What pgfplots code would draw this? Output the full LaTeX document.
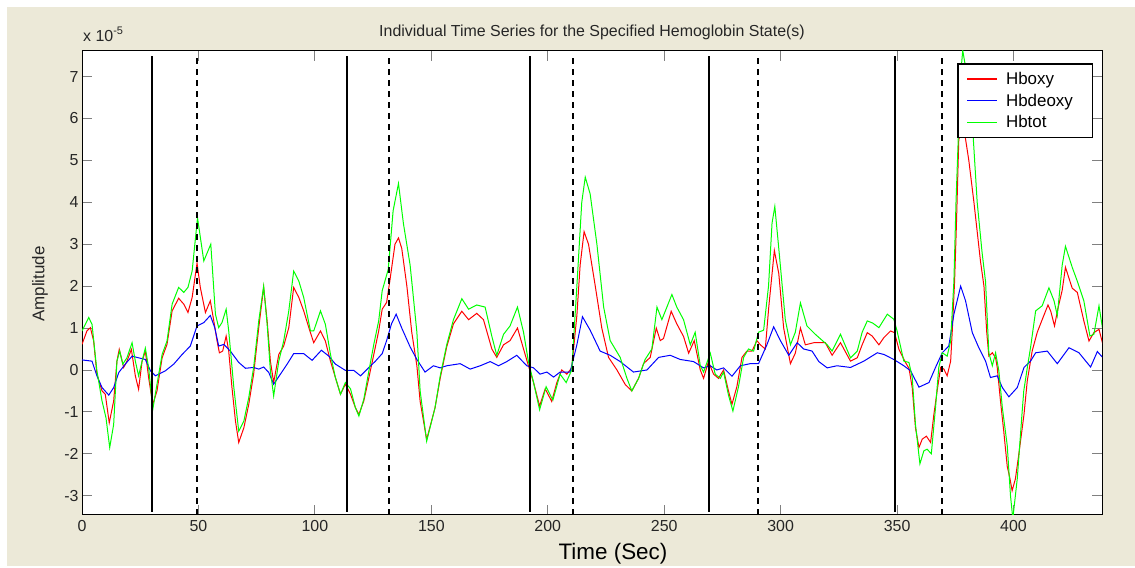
\documentclass[border=0pt]{standalone}
\usepackage{fontspec}
\setmainfont{Liberation Sans}
\usepackage{pgfplots}
\pgfplotsset{compat=1.18}
\definecolor{figbg}{RGB}{236,233,216}
\definecolor{mred}{RGB}{255,0,0}
\definecolor{mblue}{RGB}{0,0,255}
\definecolor{mgreen}{RGB}{0,255,0}
\begin{document}
\begin{tikzpicture}[x=1bp,y=1bp]
\fill[white] (0,0) rectangle (1135,566);
\fill[figbg] (7,0) rectangle (1135,559);
\begin{axis}[
  at={(82bp,51bp)}, anchor=south west,
  scale only axis, width=1020bp, height=464bp,
  xmin=0, xmax=438, ymin=-3.46, ymax=7.61,
  axis background/.style={fill=white},
  xtick={0,50,100,150,200,250,300,350,400},
  xticklabels={0,50,100,150,200,250,300,350,400},
  ytick={-3,-2,-1,0,1,2,3,4,5,6,7},
  yticklabels={-3,-2,-1,0,1,2,3,4,5,6,7},
  tick align=inside, major tick length=10bp,
  tick style={line width=0.8bp},
  axis line style={line width=1bp},
  ticklabel style={font=\fontsize{16}{18}\selectfont, text=black!85},
  xticklabel style={yshift=-2bp},
  legend style={at={(rel axis cs:0.8585,0.972)}, anchor=north west,
    name=leg, fill=white,
    font=\fontsize{17}{19}\selectfont,
    inner xsep=9bp, inner ysep=6bp, row sep=4bp,
    cells={anchor=west},
    /tikz/every odd column/.append style={column sep=6bp}},
  legend image code/.code={\draw[mark repeat=2,mark phase=2] plot coordinates {(0bp,0bp) (15bp,0bp) (30bp,0bp)};},
  legend entries={Hboxy,Hbdeoxy\hspace*{8bp},Hbtot},
]
\addlegendimage{color=mred, line width=1.2bp}
\addlegendimage{color=mblue, line width=1.2bp}
\addlegendimage{color=mgreen, line width=1.2bp}
\addplot[color=mred, line width=1bp, forget plot] coordinates {
(0,0.61) (2.1,0.93) (3.6,1.01) (5,0.69) (6.4,-0.1) (8.6,-0.5) (10,-0.58) (11.7,-1.26) (13.6,-0.74) (15,0.21) (16,0.49) (17.9,0.06) (19.3,0.21) (21.2,0.49) (22.9,-0.14) (24.3,-0.46) (25.8,0.21) (27.2,0.45) (28.6,-0.18) (30.4,-0.82) (32.2,-0.5) (34.4,0.29) (36.5,0.61) (38.7,1.41) (41.5,1.71) (43.7,1.57) (45.5,1.37) (47.3,1.73) (49.4,2.55) (50.8,1.97) (53,1.37) (55.1,1.65) (56.6,1.17) (58,0.69) (59,0.41) (60.4,0.45) (61.9,0.81) (63,0.45) (64.4,-0.42) (65.9,-1.22) (67.3,-1.73) (69.5,-1.38) (71.6,-0.82) (73.7,-0.1) (75.9,1.01) (78,1.97) (79.5,1.17) (80.9,0.21) (82.3,-0.3) (84.5,0.37) (86.6,0.57) (88.8,1.01) (90.9,1.97) (93.1,1.73) (95.2,1.41) (97.4,1.01) (99.5,0.65) (102.4,0.93) (104.5,0.69) (106.7,0.21) (108.8,-0.18) (111,-0.58) (113.1,-0.34) (115.3,-0.58) (117.4,-0.9) (118.9,-1.06) (121,-0.74) (123.2,-0.18) (125.3,0.37) (127.4,0.93) (128.9,1.45) (130.8,1.61) (132.2,2.13) (134.4,3.0) (135.9,3.15) (137.3,2.9) (139.5,2.0) (141.6,0.9) (143.8,0.1) (145.2,-0.75) (148,-1.66) (151.6,-0.9) (153.8,-0.2) (156.6,0.55) (159.5,1.1) (163.1,1.4) (166,1.2) (169.5,1.35) (172.4,1.2) (176,0.5) (178.1,0.3) (181,0.6) (183.8,0.7) (187,1.0) (189.6,0.5) (191.7,0.1) (193.9,-0.3) (196.5,-0.86) (198.9,-0.45) (201.7,-0.75) (203.9,-0.3) (206,0.0) (208.2,-0.1) (210.3,0.05) (212.5,1.3) (213.9,2.5) (215.6,3.3) (217.5,3.0) (220.4,2.0) (223.2,1.0) (226.1,0.3) (229.7,0.0) (233.3,-0.35) (236.1,-0.5) (239,-0.2) (241.1,0.15) (244,0.3) (246.6,1.0) (248.3,0.7) (249.7,0.75) (253,1.4) (255.4,1.1) (258.3,0.8) (260.5,0.4) (262.9,0.7) (265.5,0.0) (266.9,-0.2) (269,0.2) (271.2,-0.1) (273.3,-0.2) (275.5,0.0) (277.6,-0.5) (279.1,-0.82) (281.2,-0.4) (283.4,0.3) (285.5,0.45) (287.7,0.45) (289.8,0.7) (291.3,0.6) (293.4,0.5) (294.9,1.5) (297.3,2.85) (299.2,2.3) (301.3,1.0) (304.2,0.15) (306.3,0.4) (308.5,1.0) (310.6,0.6) (314.2,0.65) (319.2,0.65) (322.1,0.35) (325.7,0.65) (330,0.21) (332.9,0.29) (335,0.6) (337.2,0.89) (339.3,0.81) (342.2,0.6) (344.3,0.77) (347.2,0.93) (348.9,0.89) (350.8,0.49) (353.6,0.18) (355.1,0.04) (356.5,-0.42) (357.9,-1.38) (359.4,-1.85) (360.8,-1.65) (362.6,-1.58) (364.4,-1.73) (365.8,-1.06) (367.2,-0.5) (368.7,0.06) (370.1,0.02) (371.5,-0.14) (373,0.21) (373.7,0.93) (374.7,2.12) (375.5,3.5) (376.5,5.5) (378.6,5.8) (380.8,5.0) (383,4.0) (385.8,2.6) (387.3,2.0) (388.5,0.9) (389.4,0.33) (390.9,0.41) (392.3,0.29) (393,0.06) (394.4,-0.74) (395.8,-1.46) (397.3,-2.3) (398.5,-2.6) (399.4,-2.88) (400.8,-2.6) (402.3,-2.0) (404.5,-1.06) (405.9,-0.26) (408,0.45) (410.2,0.9) (412.3,1.2) (414.8,1.55) (416,1.4) (417.6,1.05) (419,1.45) (420.9,1.9) (422.3,2.45) (425.2,1.95) (427.4,1.85) (430.2,1.17) (432.4,0.69) (434.5,0.89) (436.7,0.97) (438.4,0.6)
};
\addplot[color=mblue, line width=1bp, forget plot] coordinates {
(0,0.24) (4.3,0.21) (6.4,-0.14) (8.6,-0.42) (11.5,-0.6) (13.6,-0.42) (15.8,-0.06) (18.6,0.14) (21.5,0.33) (24.3,0.29) (27.2,0.25) (29.4,-0.02) (31.5,-0.14) (35.8,-0.02) (39.4,0.14) (43,0.37) (46.5,0.57) (49.4,1.05) (52.3,1.13) (55.1,1.3) (57,1.01) (58.7,0.57) (60.9,0.61) (63.7,0.45) (67.3,0.18) (70.2,0.04) (73.7,0.06) (75.9,0.02) (78,0.07) (80.2,-0.06) (82.3,-0.34) (85.2,-0.1) (88.1,0.14) (90.9,0.39) (95.2,0.39) (98.8,0.23) (102.8,0.47) (106,0.33) (108.8,0.14) (113.1,-0.01) (116.7,-0.01) (119.6,-0.14) (123.2,0.06) (126,0.21) (128.9,0.39) (130.8,0.7) (132.9,1.1) (134.9,1.33) (137.3,1.0) (140.9,0.55) (143.8,0.25) (147.3,-0.05) (150.9,0.1) (153.8,0.05) (156.6,0.1) (162.4,0.15) (166.7,0.02) (171,0.1) (175.3,0.2) (178.8,0.1) (182.4,0.2) (186.7,0.35) (191,0.1) (193.9,0.05) (196.7,-0.1) (199.6,-0.05) (202.5,-0.17) (205.3,-0.05) (209.6,-0.05) (212.5,0.6) (214.9,1.27) (218.2,0.95) (222.5,0.45) (226.8,0.35) (231.1,0.2) (236.8,-0.05) (242.6,0.0) (247.6,0.3) (252.6,0.35) (256.9,0.25) (262.6,0.2) (266.9,0.05) (269.8,0.1) (272.6,0.0) (275.5,0.05) (279.1,-0.15) (282.7,0.1) (286.9,0.15) (290.5,0.15) (294.1,0.6) (297,1.03) (299.9,0.7) (303.5,0.35) (307.1,0.65) (309.9,0.5) (313.5,0.45) (316.4,0.2) (320,0.05) (324.2,0.1) (330,0.06) (335.7,0.21) (341.5,0.41) (344.3,0.37) (348.6,0.25) (352.9,0.1) (355.8,-0.02) (359.4,-0.41) (363.7,-0.3) (366.5,0.06) (369.4,0.41) (372.2,0.57) (374.4,1.33) (377.3,2.0) (379.4,1.65) (382.3,0.89) (385.1,0.53) (388,0.21) (390.1,-0.18) (393,-0.14) (395.2,-0.42) (398,-0.64) (401.6,-0.42) (404.5,0.06) (407.3,0.21) (409.5,0.41) (414.5,0.45) (418.8,0.15) (423.8,0.53) (428.1,0.41) (433.1,0.07) (436,0.44) (438.4,0.29)
};
\addplot[color=mgreen, line width=1bp, forget plot] coordinates {
(0,0.93) (2.9,1.25) (4.3,1.09) (6.4,-0.02) (8.6,-0.74) (10.3,-1.14) (11.9,-1.85) (13.6,-1.3) (15,0.21) (16.2,0.45) (17.5,0.14) (19.3,0.29) (21.5,0.65) (22.9,0.21) (24.3,-0.14) (25.8,0.21) (27.2,0.52) (28.6,0.06) (30.4,-0.94) (32.2,-0.34) (34.4,0.37) (36.5,0.69) (38.7,1.57) (41.5,1.97) (43.7,1.85) (45.5,1.97) (47.3,2.36) (49.6,3.63) (52.3,2.6) (55.3,3.0) (57.3,1.33) (58.7,1.01) (60.1,1.13) (61.9,1.45) (63,0.93) (65.2,-0.42) (67.3,-1.46) (69.5,-1.22) (71.6,-0.66) (73.7,0.06) (75.9,1.17) (78,2.0) (79.5,1.09) (80.9,-0.02) (82.3,-0.62) (84.5,0.21) (86.6,0.69) (88.8,1.41) (90.9,2.36) (93.1,2.12) (95.2,1.73) (98.1,0.93) (99.5,0.93) (102.4,1.41) (104.5,1.09) (106.7,0.37) (108.8,-0.18) (111,-0.58) (113.1,-0.3) (115.3,-0.45) (117.4,-0.9) (118.9,-1.1) (121,-0.7) (123.2,-0.02) (125.3,0.61) (127.4,1.17) (128.9,1.89) (131.5,2.4) (133.6,3.8) (135.9,4.45) (138,3.5) (140.9,2.5) (143.8,0.9) (145.2,-0.5) (148,-1.7) (151.6,-0.9) (153.8,-0.15) (156.6,0.6) (159.5,1.2) (163.1,1.7) (166,1.45) (169.5,1.55) (173.1,1.5) (176,0.8) (178.1,0.35) (181,0.85) (183.8,1.05) (187,1.5) (189.6,0.9) (191.7,0.2) (193.9,-0.3) (196.5,-0.95) (199.3,-0.4) (202.2,-0.72) (205.3,-0.1) (207.9,-0.3) (210.3,0.0) (212.5,2.0) (214.6,4.0) (216.1,4.6) (218.2,4.2) (221.1,3.0) (224,1.5) (226.8,0.7) (231.1,0.3) (234,-0.2) (236.1,-0.5) (239,-0.2) (241.8,0.25) (244.7,0.5) (246.9,1.5) (249,1.2) (253.3,1.8) (255.4,1.5) (258.3,1.2) (261.2,0.6) (263.3,0.9) (265.5,0.1) (266.9,-0.05) (269.8,0.4) (271.9,-0.1) (274.1,-0.2) (275.5,-0.05) (277.6,-0.6) (279.5,-0.98) (281.9,-0.4) (284.1,0.3) (286.2,0.5) (288.4,0.45) (290.5,0.9) (292.7,0.95) (294.8,2.0) (296.3,3.5) (297.5,3.9) (299.2,2.9) (302,1.2) (304.2,0.6) (306.3,0.9) (308.5,1.6) (311.3,1.05) (314.9,0.85) (320,0.6) (322.1,0.45) (325.7,0.85) (330,0.29) (332.9,0.45) (335,0.9) (337.2,1.17) (339.5,1.12) (342.2,1.01) (345.8,1.33) (348.6,1.21) (350,0.93) (352.9,0.21) (355.1,0.18) (356.5,-0.18) (357.9,-1.3) (359.8,-2.24) (361.5,-1.93) (362.9,-1.89) (364.7,-2.0) (366.5,-0.9) (367.9,0.06) (369.4,0.41) (371.5,0.33) (373,0.69) (374.4,2.12) (375.3,4.0) (377.2,7.0) (378.2,7.62) (380.1,7.0) (382.2,6.0) (384.4,4.0) (386.5,2.8) (388,2.1) (389.4,0.41) (390.9,0.1) (392.3,0.41) (393.7,-0.02) (395.2,-0.9) (397.3,-1.8) (398.7,-3.0) (399.7,-3.55) (401.6,-2.6) (403.7,-1.0) (404.4,-0.5) (405.9,0.05) (407.3,0.53) (409.5,1.41) (412.3,1.53) (415.2,1.96) (417.4,1.65) (418.8,1.3) (420.9,2.5) (422.3,2.95) (425.2,2.45) (427.5,2.1) (430.2,1.65) (432.8,0.81) (434.5,0.85) (436.7,1.53) (438.4,0.93)
};
\addplot[black, line width=2bp, forget plot] coordinates {(30.06,-3.38) (30.06,7.5)};
\addplot[black, line width=2bp, forget plot] coordinates {(113.79,-3.38) (113.79,7.5)};
\addplot[black, line width=2bp, forget plot] coordinates {(192.38,-3.38) (192.38,7.5)};
\addplot[black, line width=2bp, forget plot] coordinates {(269.24,-3.38) (269.24,7.5)};
\addplot[black, line width=2bp, forget plot] coordinates {(349.11,-3.38) (349.11,7.5)};
\addplot[black, line width=2bp, dash pattern=on 6bp off 5bp, forget plot] coordinates {(49.38,-3.46) (49.38,7.47)};
\addplot[black, line width=2bp, dash pattern=on 6bp off 5bp, forget plot] coordinates {(131.83,-3.46) (131.83,7.47)};
\addplot[black, line width=2bp, dash pattern=on 6bp off 5bp, forget plot] coordinates {(210.84,-3.46) (210.84,7.47)};
\addplot[black, line width=2bp, dash pattern=on 6bp off 5bp, forget plot] coordinates {(290.28,-3.46) (290.28,7.47)};
\addplot[black, line width=2bp, dash pattern=on 6bp off 5bp, forget plot] coordinates {(369.29,-3.46) (369.29,7.47)};
\end{axis}
\draw[line width=1bp] (leg.south west) rectangle (leg.north east);
\node[anchor=base, font=\fontsize{16}{18}\selectfont, text=black!85] at (592,529) {Individual Time Series for the Specified Hemoglobin State(s)};
\node[anchor=base west, inner sep=0pt, font=\fontsize{16}{18}\selectfont, text=black!85] at (83,524) {x 10\raisebox{7bp}{\fontsize{11}{12}\selectfont -5}};
\node[rotate=90, anchor=center, font=\fontsize{17}{19}\selectfont, text=black!85] at (40,282) {Amplitude};
\node[anchor=base, font=\fontsize{22.5}{25}\selectfont] at (613,6) {Time (Sec)};
\end{tikzpicture}
\end{document}
